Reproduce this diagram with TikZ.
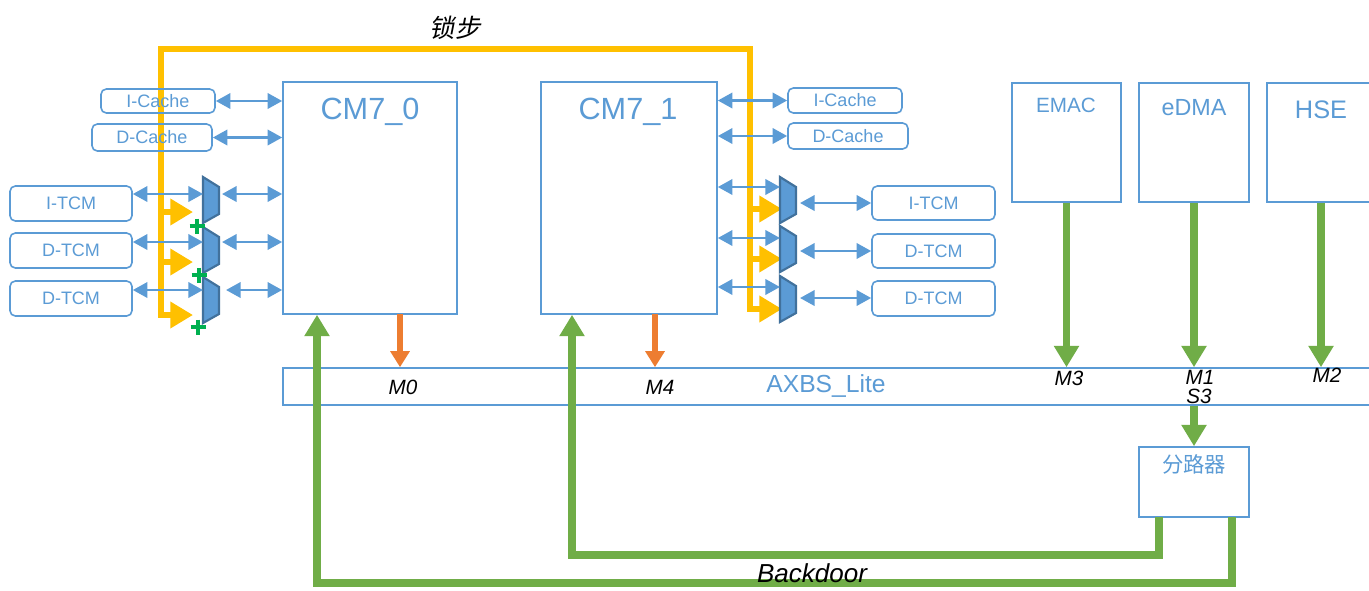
\documentclass[tikz,border=0pt]{standalone}
\usepackage{fontspec}
\setmainfont{Liberation Sans}
\newfontfamily\cjk{Noto Sans CJK SC}
\newfontfamily\cjksl[FakeSlant=0.2]{Noto Sans CJK SC}
\usetikzlibrary{arrows.meta,fit}
\definecolor{cblue}{HTML}{5B9BD5}
\definecolor{muxedge}{HTML}{41719C}
\definecolor{cyellow}{HTML}{FFC000}
\definecolor{cgreen}{HTML}{70AD47}
\definecolor{cplus}{HTML}{00B050}
\definecolor{corange}{HTML}{ED7D31}
\tikzset{
  box/.style={draw=cblue, line width=1.2pt, inner sep=0pt},
  rbox/.style={box, rounded corners=4pt},
  memlabel/.style={label={[text=cblue, inner sep=0pt, font=\fontsize{13.5}{15}\selectfont]center:#1}},
  btext/.style={text=cblue, inner sep=0pt},
  mlabel/.style={font=\fontsize{15.5}{17}\selectfont\itshape, inner sep=0pt},
  barrow/.style={draw=cblue, line width=2.1pt,
    {Triangle[length=11pt,width=11.5pt]}-{Triangle[length=11pt,width=11.5pt]}},
  garrow/.style={draw=cgreen, line width=5.5pt, -{Triangle[length=16pt,width=18pt]}},
  oarrow/.style={draw=corange, line width=3.8pt, -{Triangle[length=12pt,width=14pt]}},
  ybus/.style={draw=cyellow, line width=5pt},
  yarrow/.style={draw=cyellow, line width=4.5pt, -{Triangle[length=17pt,width=19pt]}},
  muxstyle/.style={fill=cblue, draw=muxedge, line width=1.6pt, line join=miter},
  plusline/.style={draw=cplus, line width=3.6pt},
  muxpic/.pic={\draw[muxstyle] (0,0) -- (16,10) -- (16,37) -- (0,46) -- cycle;},
  plus/.pic={\draw[plusline] (-7.5,0) -- (7.5,0) (0,-7.5) -- (0,7.5);}
}
\begin{document}
\begin{tikzpicture}[x=0.75pt,y=-0.75pt]
\useasboundingbox (0,0) rectangle (1369,590);
\fill[white] (0,0) rectangle (1369,590);
\clip (0,0) rectangle (1369,590);

% lock-step bus with its three branches into each multiplexer row
\coordinate (yl1) at (161,212); \coordinate (yl1t) at (193,212);
\coordinate (yl2) at (161,262); \coordinate (yl2t) at (193,262);
\coordinate (ylb) at (161,315); \coordinate (ylbt) at (193,315);
\coordinate (yr1) at (750,209); \coordinate (yr1t) at (782,209);
\coordinate (yr2) at (750,259); \coordinate (yr2t) at (782,259);
\coordinate (yrb) at (750,309); \coordinate (yrbt) at (782,309);
\coordinate (ytl) at (161,49);  \coordinate (ytr) at (750,49);
\draw[ybus, line join=miter, {Triangle[length=17pt,width=19pt]}-{Triangle[length=17pt,width=19pt]}]
  (yrbt) -- (yrb) -- (ytr) -- (ytl) -- (ylb) -- (ylbt);
\draw[yarrow] (yl1) -- (yl1t);
\draw[yarrow] (yl2) -- (yl2t);
\draw[yarrow] (yr1) -- (yr1t);
\draw[yarrow] (yr2) -- (yr2t);
\node[font=\fontsize{19}{21}\selectfont\cjksl, inner sep=0pt] (lockstep) at (455,28) {锁步};

% cores
\node[box, fit={(283,82) (457,314)}] (cm0) {};
\node[btext, font=\fontsize{23}{25}\selectfont] (cm0t) at (370,112) {CM7\_0};
\node[box, fit={(541,82) (717,314)}] (cm1) {};
\node[btext, font=\fontsize{23}{25}\selectfont] (cm1t) at (628,112) {CM7\_1};

% caches and tightly coupled memories
\node[rbox, fit={(101,89) (215,113)}, memlabel=I-Cache] (icL) {};
\node[rbox, fit={(92,124) (212,151)}, memlabel=D-Cache] (dcL) {};
\node[rbox, fit={(10,186) (132,221)}, memlabel=I-TCM] (itL) {};
\node[rbox, fit={(10,233) (132,268)}, memlabel=D-TCM] (dt1L) {};
\node[rbox, fit={(10,281) (132,316)}, memlabel=D-TCM] (dt2L) {};
\node[rbox, fit={(788,88) (902,113)}, memlabel=I-Cache] (icR) {};
\node[rbox, fit={(788,123) (908,149)}, memlabel=D-Cache] (dcR) {};
\node[rbox, fit={(872,186) (995,220)}, memlabel=I-TCM] (itR) {};
\node[rbox, fit={(872,234) (995,268)}, memlabel=D-TCM] (dt1R) {};
\node[rbox, fit={(872,281) (995,316)}, memlabel=D-TCM] (dt2R) {};

% multiplexers
\pic at (203,177) {muxpic};
\pic at (203,227) {muxpic};
\pic at (203,277) {muxpic};
\pic at (780,177) {muxpic};
\pic at (780,226) {muxpic};
\pic at (780,276) {muxpic};
\pic at (197,226) {plus};
\pic at (199,275) {plus};
\pic at (198,327) {plus};

% other bus masters
\node[box, fit={(1012,83) (1121,202)}] (emac) {};
\node[btext, font=\fontsize{15.5}{17}\selectfont] (emact) at (1066,105) {EMAC};
\node[box, fit={(1139,83) (1249,202)}] (edma) {};
\node[btext, font=\fontsize{17.5}{19}\selectfont] (edmat) at (1194,108) {eDMA};
\node[box, fit={(1267,83) (1375,202)}] (hse) {};
\node[btext, font=\fontsize{19}{21}\selectfont] (hset) at (1321,110) {HSE};

% crossbar and splitter
\node[box, fit={(283,368) (1385,405)}] (axbs) {};
\node[btext, font=\fontsize{18.5}{20}\selectfont] (axbst) at (826,386) {AXBS\_Lite};
\node[box, fit={(1139,447) (1249,517)}] (split) {};
\node[btext, font=\fontsize{16}{18}\selectfont\cjk] (splitt) at (1194,464) {分路器};

% port labels
\node[mlabel] (m0) at (403,387) {M0};
\node[mlabel] (m4) at (660,387) {M4};
\node[mlabel] (m3) at (1069,378) {M3};
\node[mlabel] (m1) at (1200,377) {M1};
\node[mlabel] (s3) at (1199,396) {S3};
\node[mlabel] (m2) at (1327,375) {M2};

% cache links
\draw[barrow] (icL.east) -- (icL.east -| cm0.west);
\draw[barrow] (dcL.east) -- (dcL.east -| cm0.west);
\draw[barrow] (icR.west -| cm1.east) -- (icR.west);
\draw[barrow] (dcR.west -| cm1.east) -- (dcR.west);

% TCM links through the multiplexers, left core
\coordinate (mL1i) at (203,194); \coordinate (mL1o) at (222,194);
\coordinate (mL2i) at (203,242); \coordinate (mL2o) at (222,242);
\coordinate (mL3i) at (203,290); \coordinate (mL3o) at (226,290);
\draw[barrow] (itL.east |- mL1i) -- (mL1i);
\draw[barrow] (dt1L.east |- mL2i) -- (mL2i);
\draw[barrow] (dt2L.east |- mL3i) -- (mL3i);
\draw[barrow] (mL1o) -- (mL1o -| cm0.west);
\draw[barrow] (mL2o) -- (mL2o -| cm0.west);
\draw[barrow] (mL3o) -- (mL3o -| cm0.west);

% TCM links through the multiplexers, right core
\coordinate (mR1i) at (780,187); \coordinate (mR1o) at (800,203);
\coordinate (mR2i) at (780,238); \coordinate (mR2o) at (800,251);
\coordinate (mR3i) at (780,287); \coordinate (mR3o) at (800,298);
\draw[barrow] (mR1i -| cm1.east) -- (mR1i);
\draw[barrow] (mR2i -| cm1.east) -- (mR2i);
\draw[barrow] (mR3i -| cm1.east) -- (mR3i);
\draw[barrow] (mR1o) -- (mR1o -| itR.west);
\draw[barrow] (mR2o) -- (mR2o -| dt1R.west);
\draw[barrow] (mR3o) -- (mR3o -| dt2R.west);

% core master ports
\coordinate (o0) at (400,314); \coordinate (o4) at (655,314);
\draw[oarrow] (o0) -- (o0 |- axbs.north);
\draw[oarrow] (o4) -- (o4 |- axbs.north);

% other masters into the crossbar
\draw[garrow] (emac.south) -- (emac.south |- axbs.north);
\draw[garrow] (edma.south) -- (edma.south |- axbs.north);
\draw[garrow] (hse.south) -- (hse.south |- axbs.north);
\draw[garrow] (split.north |- axbs.south) -- (split.north);

% backdoor paths
\coordinate (sp1) at (1159,517); \coordinate (k1) at (572,555);
\coordinate (sp2) at (1232,517); \coordinate (k2) at (317,583);
\draw[garrow, line join=miter] (sp1) |- (k1) -- (k1 |- cm1.south);
\draw[garrow, line join=miter] (sp2) |- (k2) -- (k2 |- cm0.south);
\node[font=\fontsize{19.5}{21}\selectfont\itshape, inner sep=0pt] (backdoor) at (812,573) {Backdoor};
\end{tikzpicture}
\end{document}
